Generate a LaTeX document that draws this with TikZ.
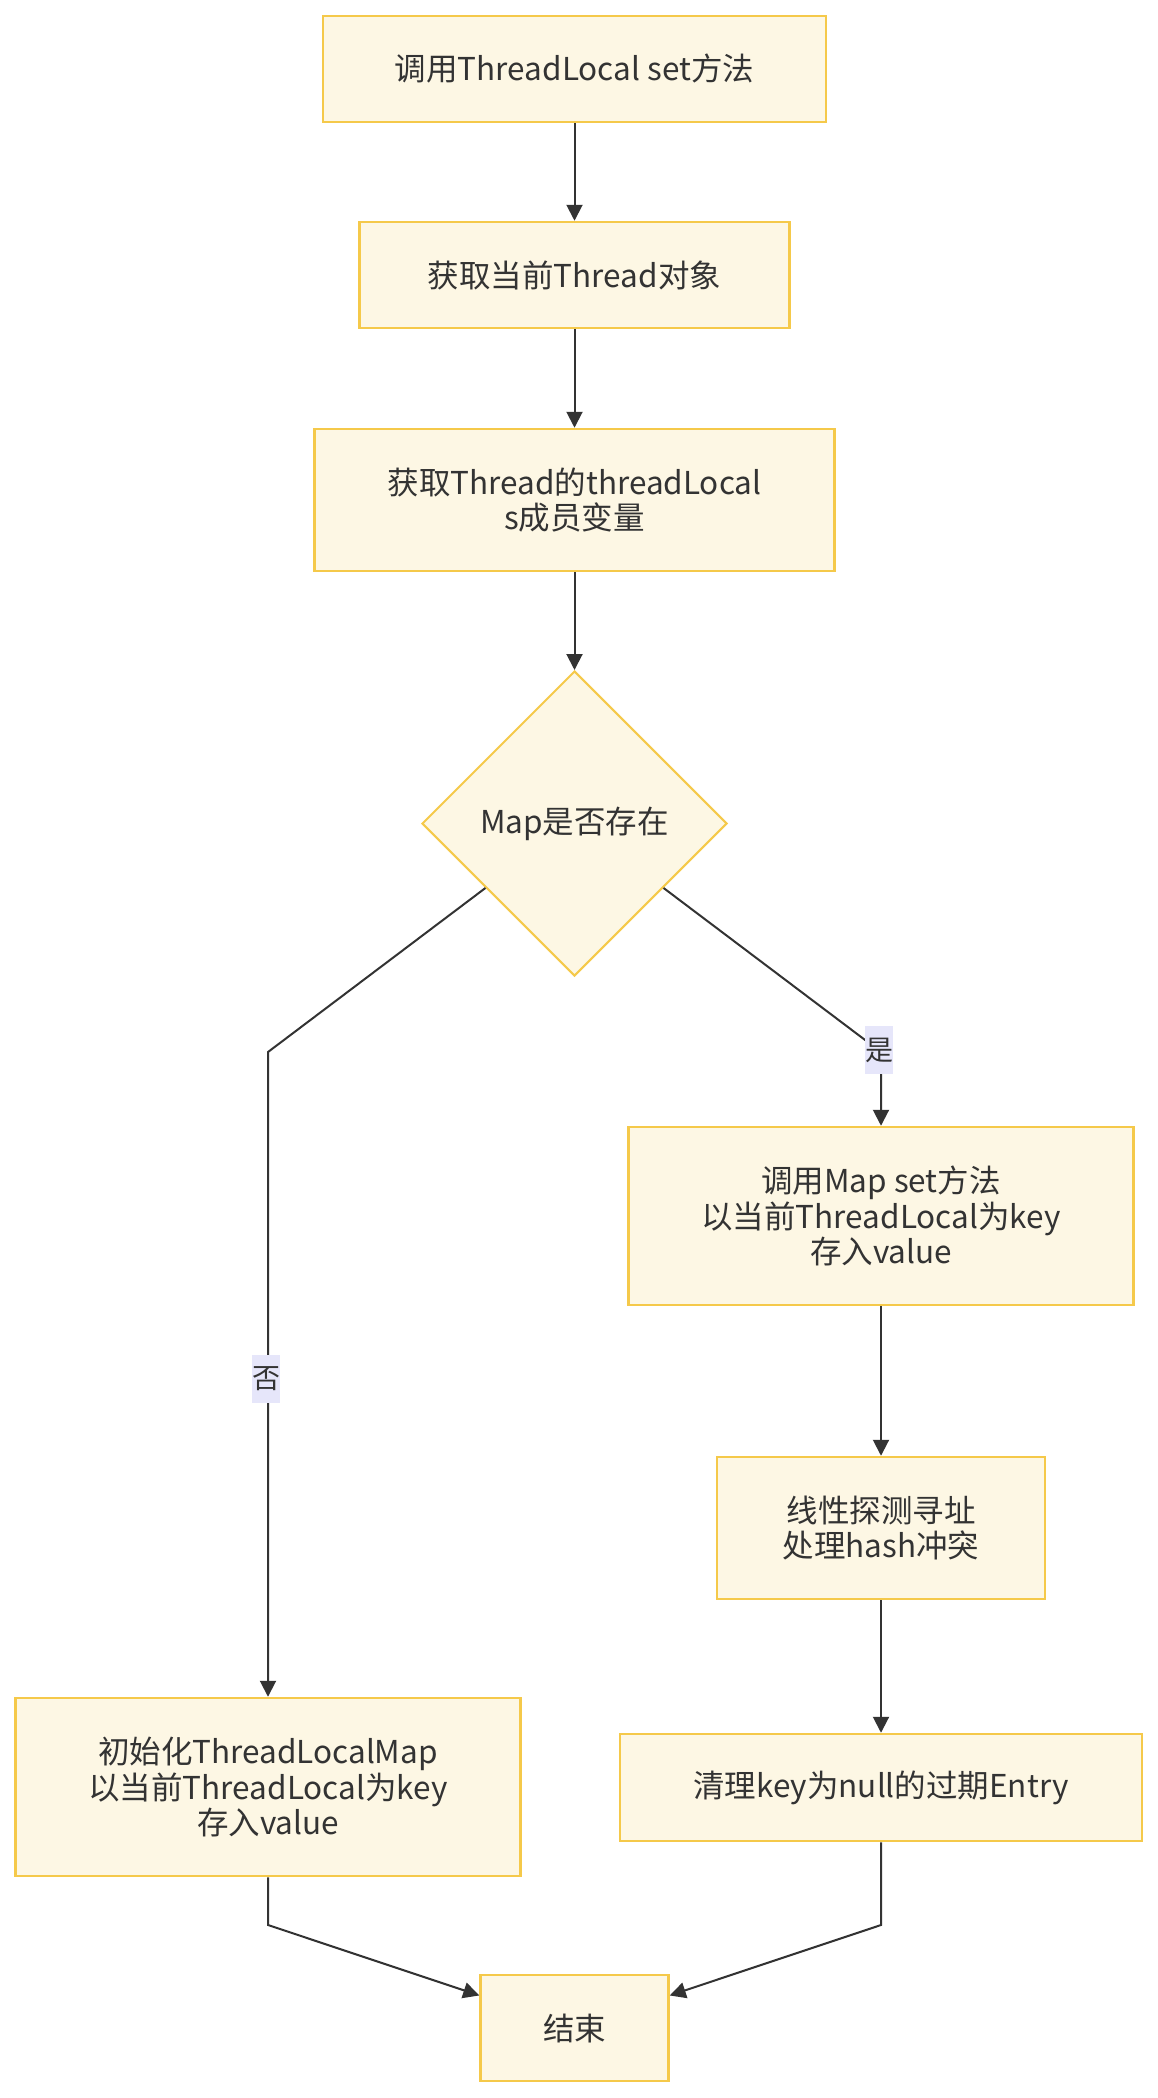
\documentclass[tikz,border=0pt]{standalone}
\usepackage{fontspec}
\setmainfont{Noto Sans CJK SC}
\usetikzlibrary{shapes.geometric,arrows.meta,calc}
\definecolor{boxfill}{HTML}{FDF7E4}
\definecolor{boxline}{HTML}{F5C94A}
\definecolor{lblfill}{HTML}{E6E6FA}
\definecolor{txt}{HTML}{333333}
\definecolor{edge}{HTML}{333333}
\tikzset{
  box/.style={draw=boxline, fill=boxfill, line width=2.5pt, text=txt, align=center, inner sep=0pt,
    font=\fontsize{31.5}{35.5}\selectfont},
  dia/.style={diamond, draw=boxline, fill=boxfill, line width=2pt, text=txt, inner sep=0pt, aspect=1,
    minimum width=305pt, minimum height=305pt, font=\fontsize{31.5}{35.5}\selectfont},
  conn/.style={draw=edge, line width=2pt, -{Triangle[length=16pt,width=16pt]}},
  lbl/.style={fill=lblfill, text=txt, inner sep=0pt, minimum width=28pt, minimum height=48pt,
    font=\fontsize{28}{30}\selectfont},
}
\begin{document}
\begin{tikzpicture}[x=1pt,y=-1pt]
\useasboundingbox (0,0) rectangle (1158,2098);
\node[box, minimum width=503pt, minimum height=106pt] (n1) at (574.5,69) {调用ThreadLocal set方法};
\node[box, minimum width=430pt, minimum height=106pt] (n2) at (574.5,275) {获取当前Thread对象};
\node[box, minimum width=520pt, minimum height=142pt] (n3) at (574.5,500) {获取Thread的threadLocal\\s成员变量};
\node[dia] (d) at (574.5,823.5) {Map是否存在};
\node[box, minimum width=505pt, minimum height=178pt] (n4) at (881,1216) {调用Map set方法\\以当前ThreadLocal为key\\存入value};
\node[box, minimum width=328pt, minimum height=142pt] (n5) at (881,1528) {线性探测寻址\\处理hash冲突};
\node[box, minimum width=522pt, minimum height=107pt] (n6) at (881,1787.5) {清理key为null的过期Entry};
\node[box, minimum width=505pt, minimum height=178pt] (n7) at (268,1787) {初始化ThreadLocalMap\\以当前ThreadLocal为key\\存入value};
\node[box, minimum width=188pt, minimum height=106pt] (end) at (574.5,2028) {结束};

\coordinate (dl) at ($(d.west)!0.42!(d.south)$);
\coordinate (dr) at ($(d.east)!0.42!(d.south)$);
\coordinate (cl) at (268,1052);
\coordinate (cr) at (881,1052);
\coordinate (bl) at (268,1925);
\coordinate (br) at (881,1925);
\coordinate (el) at ($(end.north west)!0.2!(end.south west)$);
\coordinate (er) at ($(end.north east)!0.2!(end.south east)$);

\draw[conn] (n1.south) -- (n2.north);
\draw[conn] (n2.south) -- (n3.north);
\draw[conn] (n3.south) -- (d.north);
\draw[conn] (dl) -- (cl) -- (n7.north);
\draw[conn] (dr) -- (cr) -- (n4.north);
\draw[conn] (n4.south) -- (n5.north);
\draw[conn] (n5.south) -- (n6.north);
\draw[conn] (n7.south) -- (bl) -- (el);
\draw[conn] (n6.south) -- (br) -- (er);

\node[lbl] (lno) at (266,1379) {否};
\node[lbl] (lyes) at (879,1050) {是};
\end{tikzpicture}
\end{document}
